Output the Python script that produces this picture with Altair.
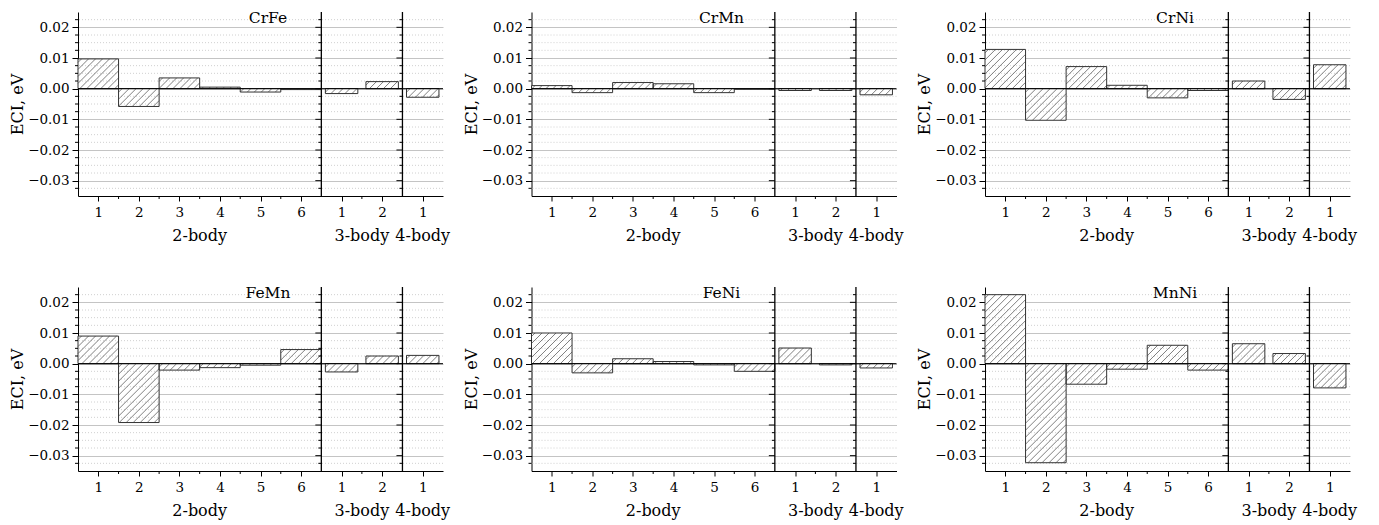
import altair as alt
import pandas as pd

# ---------------- data ----------------
PANELS = ["CrFe", "CrMn", "CrNi", "FeMn", "FeNi", "MnNi"]
SECTION_TITLES = ["2-body", "3-body", "4-body"]
SECTION_SIZES = [6, 2, 1]

two_body = {
    "CrFe": [0.0097, -0.0058, 0.0035, 0.0005, -0.0011, -0.0003],
    "CrMn": [0.0010, -0.0013, 0.0020, 0.0016, -0.0013, -0.0002],
    "CrNi": [0.0128, -0.0103, 0.0072, 0.0011, -0.0030, -0.0006],
    "FeMn": [0.0090, -0.0192, -0.0021, -0.0013, -0.0005, 0.0046],
    "FeNi": [0.0100, -0.0030, 0.0016, 0.0007, -0.0004, -0.0025],
    "MnNi": [0.0225, -0.0323, -0.0067, -0.0018, 0.0060, -0.0021],
}
three_body = {
    "CrFe": [-0.0016, 0.0023],
    "CrMn": [-0.0006, -0.0006],
    "CrNi": [0.0025, -0.0035],
    "FeMn": [-0.0027, 0.0025],
    "FeNi": [0.0051, -0.0004],
    "MnNi": [0.0065, 0.0033],
}
four_body = {
    "CrFe": [-0.0028],
    "CrMn": [-0.0020],
    "CrNi": [0.0078],
    "FeMn": [0.0027],
    "FeNi": [-0.0014],
    "MnNi": [-0.0079],
}
SECTION_DATA = [two_body, three_body, four_body]

Y_DOMAIN = [-0.035, 0.025]
Y_MAJOR = [-0.03, -0.02, -0.01, 0.0, 0.01, 0.02]
Y_MINOR = [-0.0325, -0.0275, -0.025, -0.0225, -0.0175, -0.015, -0.0125,
           -0.0075, -0.005, -0.0025, 0.0025, 0.005, 0.0075, 0.0125, 0.015,
           0.0175, 0.0225]

# ---------------- layout / style ----------------
PLOT_W = 365
PLOT_H = 184
BAR_HALF = [0.5, 0.4, 0.4]
HATCH_STEP = 7
FONT = "DejaVu Serif"

N_SLOTS = sum(SECTION_SIZES)
SEPARATORS = [6.5, 8.5]
SECTION_CENTERS = [3.5, 7.5, 9.0]
SLOT_LABELS = [1, 2, 3, 4, 5, 6, 1, 2, 1]
BOUNDARIES = [1.5, 2.5, 3.5, 4.5, 5.5, 7.5]

XS = alt.Scale(domain=[0.5, N_SLOTS + 0.5], nice=False, zero=False)
YS = alt.Scale(domain=Y_DOMAIN, nice=False, zero=False)

LABEL_MAP = "{" + ", ".join(f"'{i + 1}': '{lab}'" for i, lab in enumerate(SLOT_LABELS)) + "}"
XAXIS = alt.Axis(
    values=list(range(1, N_SLOTS + 1)),
    labelExpr=f"{LABEL_MAP}[format(datum.value, 'd')]",
    tickSize=5,
    grid=False,
    labelPadding=4,
    title=None,
)
YAXIS = alt.Axis(
    values=Y_MAJOR,
    format=".2f",
    tickSize=6,
    grid=True,
    gridColor="#c4c4c4",
    labelPadding=3,
    titlePadding=2,
    title="ECI, eV",
)


def X(field):
    return alt.X(field, scale=XS, axis=XAXIS)


def Y(field):
    return alt.Y(field, scale=YS, axis=YAXIS)


def panel_chart(panel):
    rows = []
    pos = 0
    for k, size in enumerate(SECTION_SIZES):
        for v in SECTION_DATA[k][panel]:
            pos += 1
            rows.append({"pos": pos, "v": v, "hw": BAR_HALF[k]})
    df = pd.DataFrame(rows)

    kx = PLOT_W / N_SLOTS
    ky = PLOT_H / (Y_DOMAIN[1] - Y_DOMAIN[0])

    minor_df = pd.DataFrame({"m": Y_MINOR})
    minor_grid = alt.Chart(minor_df).mark_rule(
        color="#d0d0d0", strokeWidth=1, strokeDash=[1, 2]
    ).encode(y=Y("m:Q"))

    base = alt.Chart(df).transform_calculate(
        xa="datum.pos - datum.hw"
    ).transform_calculate(
        xb="datum.pos + datum.hw"
    )

    fill = base.mark_rect(fill="white", strokeWidth=0).encode(
        x=X("xa:Q"), x2="xb:Q", y=Y("v:Q"), y2=alt.datum(0),
    )

    hatch = (
        base.transform_calculate(W=f"(datum.xb - datum.xa) * {kx}")
        .transform_calculate(H=f"abs(datum.v) * {ky}")
        .transform_calculate(base0="min(datum.v, 0)")
        .transform_calculate(c=f"sequence(-datum.H + {HATCH_STEP / 2}, datum.W, {HATCH_STEP})")
        .transform_flatten(["c"])
        .transform_calculate(lx0="max(0, datum.c)")
        .transform_calculate(lx1="min(datum.W, datum.c + datum.H)")
        .transform_filter("datum.lx1 > datum.lx0")
        .transform_calculate(hx0=f"datum.xa + datum.lx0 / {kx}")
        .transform_calculate(hx1=f"datum.xa + datum.lx1 / {kx}")
        .transform_calculate(hy0=f"datum.base0 + (datum.lx0 - datum.c) / {ky}")
        .transform_calculate(hy1=f"datum.base0 + (datum.lx1 - datum.c) / {ky}")
        .mark_rule(color="#606060", strokeWidth=0.8)
        .encode(x=X("hx0:Q"), x2="hx1:Q", y=Y("hy0:Q"), y2="hy1:Q")
    )

    outline = base.mark_rect(fill="transparent", stroke="#333333", strokeWidth=1).encode(
        x=X("xa:Q"), x2="xb:Q", y=Y("v:Q"), y2=alt.datum(0),
    )

    zero = alt.Chart(pd.DataFrame({"z": [0.0]})).mark_rule(
        color="black", strokeWidth=1
    ).encode(y=Y("z:Q"))

    sep_df = pd.DataFrame({"s": SEPARATORS})
    seps = alt.Chart(sep_df).mark_rule(color="black", strokeWidth=1.3).encode(x=X("s:Q"))

    sep_major_df = pd.DataFrame([{"s": s, "y": y} for s in SEPARATORS for y in Y_MAJOR])
    sep_minor_df = pd.DataFrame([{"s": s, "y": y} for s in SEPARATORS for y in Y_MINOR])
    sep_major_ticks = alt.Chart(sep_major_df).mark_rule(color="black", xOffset=-6).encode(
        x=X("s:Q"), x2="s:Q", y=Y("y:Q")
    )
    sep_minor_ticks = alt.Chart(sep_minor_df).mark_rule(color="black", xOffset=-3).encode(
        x=X("s:Q"), x2="s:Q", y=Y("y:Q")
    )
    left_minor_ticks = alt.Chart(minor_df).mark_rule(color="black").encode(
        y=Y("m:Q"), x=alt.value(-3), x2=alt.value(0)
    )
    x_minor_ticks = alt.Chart(pd.DataFrame({"b": BOUNDARIES})).mark_rule(color="black").encode(
        x=X("b:Q"), y=alt.value(PLOT_H), y2=alt.value(PLOT_H + 3)
    )

    sec_df = pd.DataFrame({"c": SECTION_CENTERS, "t": SECTION_TITLES})
    sec_titles = alt.Chart(sec_df).mark_text(
        font=FONT, fontSize=16, color="black", align="center", baseline="alphabetic"
    ).encode(x=X("c:Q"), y=alt.value(PLOT_H + 44.5), text="t:N")

    label = alt.Chart(pd.DataFrame({"t": [panel]})).mark_text(
        font=FONT, fontSize=15.5, color="black", align="center", baseline="alphabetic"
    ).encode(text="t:N", x=alt.value(190), y=alt.value(10.5))

    return alt.layer(
        fill, minor_grid, hatch, outline, zero, seps,
        sep_major_ticks, sep_minor_ticks, left_minor_ticks, x_minor_ticks,
        sec_titles, label,
    ).properties(width=PLOT_W, height=PLOT_H)


row1 = alt.hconcat(*[panel_chart(p) for p in PANELS[:3]], spacing=11.5)
row2 = alt.hconcat(*[panel_chart(p) for p in PANELS[3:]], spacing=11.5)

chart = (
    alt.vconcat(row1, row2, spacing=41)
    .properties(padding={"left": 9, "top": 10, "right": 5, "bottom": 5}, background="white")
    .configure_axis(
        labelFont=FONT,
        titleFont=FONT,
        labelFontSize=13.5,
        titleFontSize=16,
        titleFontWeight="normal",
        labelColor="black",
        titleColor="black",
        domainColor="black",
        domainWidth=1,
        tickColor="black",
        tickWidth=1,
        gridWidth=1,
    )
    .configure_view(stroke="transparent")
)

chart.save("out.html", embed_options={"renderer": "svg", "actions": False})
